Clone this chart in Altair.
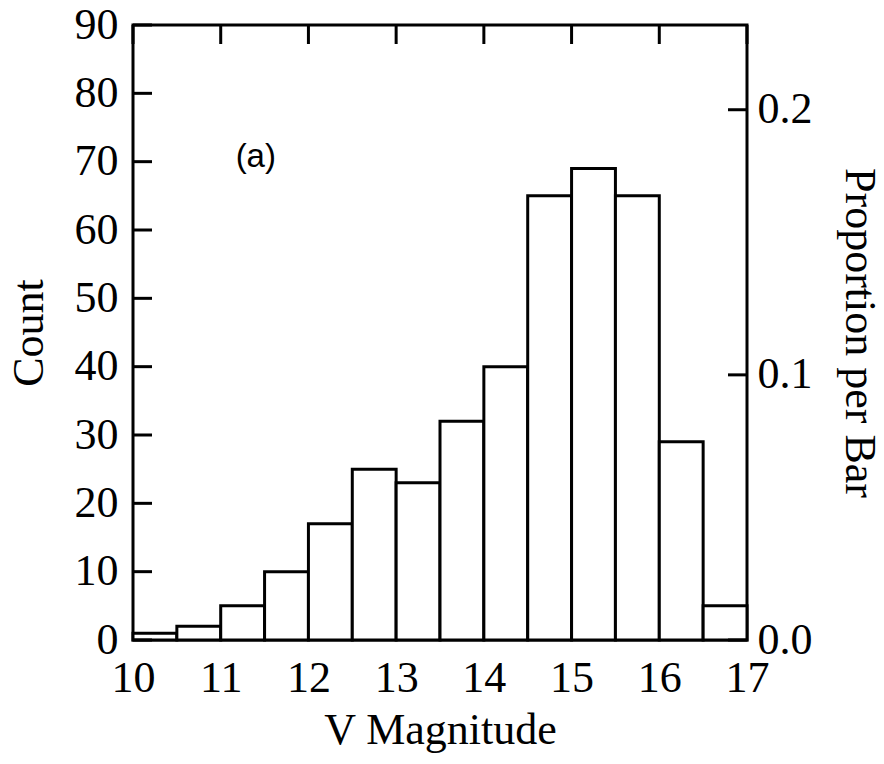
import altair as alt
import pandas as pd

# Histogram of V magnitudes (bin width 0.5)
bin_start = [10.0, 10.5, 11.0, 11.5, 12.0, 12.5, 13.0, 13.5, 14.0, 14.5, 15.0, 15.5, 16.0, 16.5]
bin_end = [10.5, 11.0, 11.5, 12.0, 12.5, 13.0, 13.5, 14.0, 14.5, 15.0, 15.5, 16.0, 16.5, 17.0]
counts = [1, 2, 5, 10, 17, 25, 23, 32, 40, 65, 69, 65, 29, 5]

x_ticks = [10, 11, 12, 13, 14, 15, 16, 17]
y_ticks = [0, 10, 20, 30, 40, 50, 60, 70, 80, 90]
prop_ticks = [0.0, 0.1, 0.2]

panel_label = "(a)"
panel_label_x = 11.4
panel_label_y = 70.7

total = sum(counts)
y_max = 90

df = pd.DataFrame({"start": bin_start, "end": bin_end, "count": counts})
label_df = pd.DataFrame({"x": [panel_label_x], "y": [panel_label_y], "t": [panel_label]})
xt_df = pd.DataFrame({"v": x_ticks})
yt_df = pd.DataFrame({"v": y_ticks})
pt_df = pd.DataFrame({"v": prop_ticks})

SERIF = "Liberation Serif"
W, H = 614, 615
T = 19  # inward tick length

x_scale = alt.Scale(domain=[10, 17], nice=False, zero=False)
y_scale = alt.Scale(domain=[0, y_max], nice=False)
p_scale = alt.Scale(domain=[0, y_max / total], nice=False)

bars = alt.Chart(df).mark_bar(fill="white", stroke="black", strokeWidth=3).encode(
    x=alt.X("start:Q", scale=x_scale,
            axis=alt.Axis(values=x_ticks, format="d", title="V Magnitude", orient="bottom",
                          ticks=False, domain=False, grid=False, labelPadding=16, titlePadding=8)),
    x2="end:Q",
    y=alt.Y("count:Q", scale=y_scale,
            axis=alt.Axis(values=y_ticks, format="d", title="Count", orient="left",
                          ticks=False, domain=False, grid=False,
                          labelPadding=15, titlePadding=23)),
    y2=alt.datum(0),
)

left_ticks = alt.Chart(yt_df).mark_rule(color="black", strokeWidth=3).encode(
    y=alt.Y("v:Q", scale=y_scale, title="Count"),
    x=alt.value(0),
    x2=alt.value(T),
)

label = alt.Chart(label_df).mark_text(font="Liberation Sans", fontSize=33, color="black").encode(
    x=alt.X("x:Q", scale=x_scale, title="V Magnitude"),
    y=alt.Y("y:Q", scale=y_scale, title="Count"),
    text="t:N",
)

left = alt.layer(bars, left_ticks, label)

top_ticks = alt.Chart(xt_df).mark_rule(color="black", strokeWidth=3).encode(
    x=alt.X("v:Q", scale=x_scale,
            axis=alt.Axis(orient="top", labels=False, ticks=False, domain=False, grid=False, title="")),
    y=alt.value(0),
    y2=alt.value(T),
)

right_ticks = alt.Chart(pt_df).mark_rule(color="black", strokeWidth=3).encode(
    y=alt.Y("v:Q", scale=p_scale,
            axis=alt.Axis(values=prop_ticks, format=".1f", title="Proportion per Bar", orient="right",
                          ticks=False, domain=False, grid=False,
                          labelPadding=10, titlePadding=24)),
    x=alt.value(W - T),
    x2=alt.value(W),
)

right = alt.layer(top_ticks, right_ticks)

chart = alt.layer(left, right).resolve_scale(x="independent", y="independent").properties(
    width=W,
    height=H,
    autosize=alt.AutoSizeParams(type="none"),
    padding={"left": 125, "top": 17, "right": 129, "bottom": 116},
).configure_view(
    stroke="black", strokeWidth=3
).configure_axis(
    labelFont=SERIF, titleFont=SERIF, labelFontSize=44, titleFontSize=44,
    labelColor="black", titleColor="black",
    titleFontWeight="normal", labelFlush=False, labelOverlap=False,
)

chart.save("out.html", embed_options={"renderer": "svg", "actions": False})
